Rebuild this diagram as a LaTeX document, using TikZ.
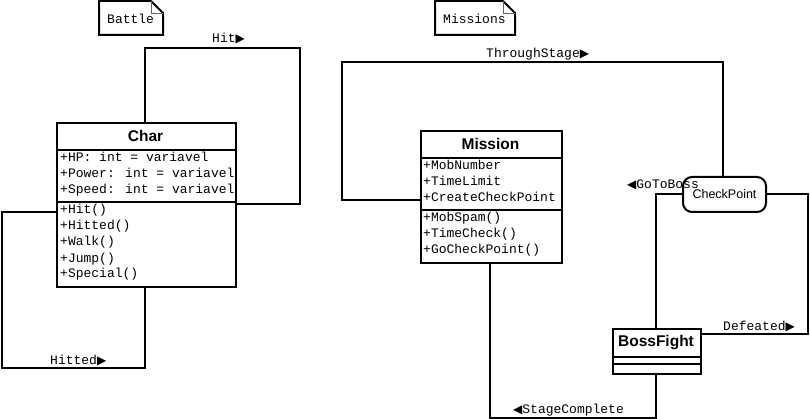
\documentclass[tikz,border=0pt]{standalone}
\usepackage{fontspec}
\setmainfont{Liberation Sans}
\newfontfamily\monof{Liberation Mono}
\newfontfamily\symf{DejaVu Sans}
\newcommand{\rtri}{{\symf\fontsize{12}{12}\selectfont ▶}}
\newcommand{\ltri}{{\symf\fontsize{12}{12}\selectfont ◀}}
\begin{document}
\begin{tikzpicture}[x=1pt,y=-1pt,
  box/.style={draw, line width=2pt, fill=white, inner sep=0pt, anchor=north west},
  conn/.style={line width=2pt},
  mono/.style={font=\monof\fontsize{13}{15}\selectfont, inner sep=0pt, anchor=west, text height=9pt, text depth=3pt},
  ttl/.style={font=\bfseries\fontsize{15.5}{18}\selectfont, inner sep=0pt},
  notebox/.style={line width=2pt, fill=white},
  fold/.style={line width=0.8pt, draw=black!60}]
\useasboundingbox (0,0) rectangle (810,419);

% notes
\draw[notebox] (99,1) -- (151,1) -- (163,13) -- (163,35) -- (99,35) -- cycle;
\draw[fold] (151,1) -- (151,13) -- (163,13);
\node[mono] (battle) at (107,21) {Battle};
\draw[notebox] (435,1) -- (503,1) -- (515,13) -- (515,35) -- (435,35) -- cycle;
\draw[fold] (503,1) -- (503,13) -- (515,13);
\node[mono] (missions) at (443,21) {Missions};

% class boxes
\node[box, minimum width=179pt, minimum height=164pt] (char) at (56,122) {};
\node[box, minimum width=141pt, minimum height=132pt] (mission) at (420,130) {};
\node[box, minimum width=88pt, minimum height=45pt] (boss) at (612,328) {};
\node[box, rounded corners=9pt, minimum width=83pt, minimum height=35pt] (cp) at (682,176) {};
\node[inner sep=0pt, font=\fontsize{12.5}{14}\selectfont] (cptext) at ([yshift=0.5pt]cp.center) {CheckPoint};

% compartments
\draw[conn] ([yshift=-28pt]char.north west) -- ([yshift=-28pt]char.north east);
\draw[conn] ([yshift=-80pt]char.north west) -- ([yshift=-80pt]char.north east);
\draw[conn] ([yshift=-28pt]mission.north west) -- ([yshift=-28pt]mission.north east);
\draw[conn] ([yshift=-80pt]mission.north west) -- ([yshift=-80pt]mission.north east);
\draw[conn] ([yshift=-29pt]boss.north west) -- ([yshift=-29pt]boss.north east);
\draw[conn] ([yshift=-36pt]boss.north west) -- ([yshift=-36pt]boss.north east);

% titles
\node[ttl] (chart) at (145.5,136) {Char};
\node[ttl] (missiont) at (490.5,144) {Mission};
\node[ttl] (bosst) at (656,343) {BossFight};

% Char members
\node[mono] (c1) at (60,159) {+HP: int = variavel};
\node[mono] (c2) at (60,175) {+Power: int = variavel};
\node[mono] (c3) at (60,191) {+Speed: int = variavel};
\node[mono] (c4) at (60,211) {+Hit()};
\node[mono] (c5) at (60,227) {+Hitted()};
\node[mono] (c6) at (60,243) {+Walk()};
\node[mono] (c7) at (60,259) {+Jump()};
\node[mono] (c8) at (60,275) {+Special()};

% Mission members
\node[mono] (m1) at (423,167) {+MobNumber};
\node[mono] (m2) at (423,183) {+TimeLimit};
\node[mono] (m3) at (423,199) {+CreateCheckPoint};
\node[mono] (m4) at (423,219) {+MobSpam()};
\node[mono] (m5) at (423,235) {+TimeCheck()};
\node[mono] (m6) at (423,251) {+GoCheckPoint()};

% connector coordinates
\coordinate (hitTL) at (145,48);
\coordinate (hitTR) at (300,48);
\coordinate (hitR) at (300,204);
\coordinate (htL) at (2,212);
\coordinate (htB) at (2,368);
\coordinate (htR) at (145,368);
\coordinate (tsL) at (342,200);
\coordinate (tsTL) at (342,62);
\coordinate (tsTR) at (723,62);
\coordinate (gb) at (656,194);
\coordinate (dfT) at (808,194);
\coordinate (dfB) at (808,334);
\coordinate (scL) at (490,418);
\coordinate (scR) at (656,418);

% connectors
\draw[conn] (char.north -| hitTL) -- (hitTL) -- (hitTR) -- (hitR) -- (char.east |- hitR);
\draw[conn] (char.west |- htL) -- (htL) -- (htB) -- (htR) -- (char.south -| htR);
\draw[conn] (mission.west |- tsL) -- (tsL) -- (tsTL) -- (tsTR) -- (cp.north -| tsTR);
\draw[conn] (cp.west |- gb) -- (gb) -- (boss.north -| gb);
\draw[conn] (cp.east |- dfT) -- (dfT) -- (dfB) -- (boss.east |- dfB);
\draw[conn] (mission.south -| scL) -- (scL) -- (scR) -- (boss.south -| scR);

% connector labels
\node[mono] (lhit) at (212,40) {Hit\rtri};
\node[mono] (lhitted) at (50,361) {Hitted\rtri};
\node[mono] (lts) at (486,55) {ThroughStage\rtri};
\node[mono] (lgb) at (627,186) {\ltri GoToBoss};
\node[mono] (ldf) at (723,327) {Defeated\rtri};
\node[mono] (lsc) at (513,410) {\ltri StageComplete};
\end{tikzpicture}
\end{document}
